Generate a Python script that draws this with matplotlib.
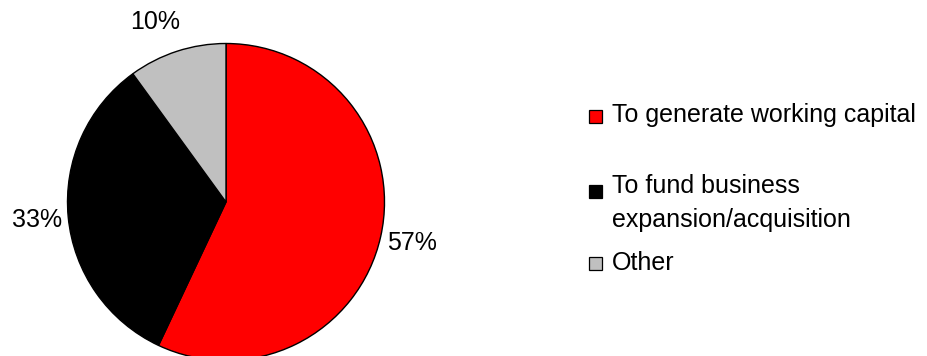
import matplotlib.pyplot as plt
from matplotlib.patches import Rectangle

plt.rcParams['font.family'] = ['Liberation Sans', 'DejaVu Sans']

categories = ['To generate working capital',
              'To fund business\nexpansion/acquisition',
              'Other']
shares = [57, 33, 10]
pct_labels = ['57%', '33%', '10%']
colors = ['#ff0000', '#000000', '#c0c0c0']

W, H = 928, 356
fig = plt.figure(figsize=(W / 100, H / 100), dpi=100)

# pie axes: centre at (226, 202) px, radius 158.5 px
r = 158.5
ax = fig.add_axes([0, 0, 452 / W, 1])
wedges, texts = ax.pie(shares, colors=colors, labels=pct_labels, startangle=90,
                       counterclock=False, labeldistance=1.2,
                       wedgeprops=dict(edgecolor='black', linewidth=1.0),
                       textprops=dict(fontsize=18))
for t in texts:
    t.set_ha('center')
    t.set_va('center')
# Excel moved the small slice label above the pie
texts[2].set_position((-0.45, 1.135))
ax.set_xlim(-226 / r, 226 / r)
ax.set_ylim(-154 / r, 202 / r)
ax.set_aspect('equal')


def fx(x):
    return x / W


def fy(y):
    return 1 - y / H


# legend, drawn by hand to keep Excel's uneven spacing
box_top = [110, 185, 257]
text_base = [122, 227, 270]   # baseline of the last line of each entry
for lab, col, bt, tb in zip(categories, colors, box_top, text_base):
    fig.patches.append(Rectangle((fx(589), fy(bt + 13)), 13 / W, 13 / H,
                                 facecolor=col, edgecolor='black', linewidth=0.9,
                                 transform=fig.transFigure))
    fig.text(fx(612), fy(tb), lab, fontsize=18, ha='left', va='baseline',
             linespacing=1.5)

fig.savefig('out.png', dpi=100)
